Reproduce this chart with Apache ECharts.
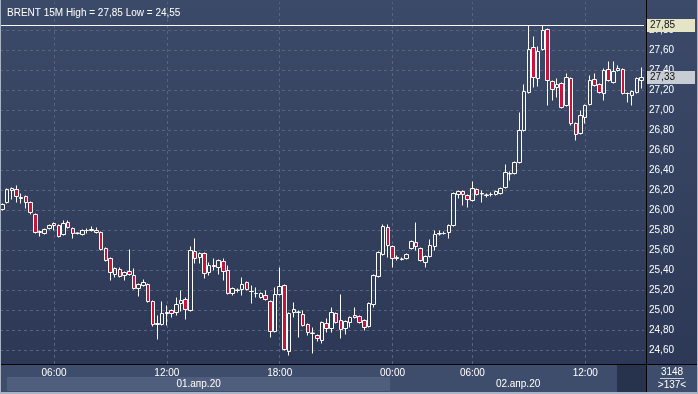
<!DOCTYPE html>
<html><head><meta charset="utf-8">
<script src="https://cdn.jsdelivr.net/npm/echarts@6/dist/echarts.min.js"></script>
<style>html,body{margin:0;padding:0;background:#34415f;}#c{width:698px;height:394px;}</style>
</head><body><div id="c"></div>
<script>
// ---- data ----
const opens = [26.01,26.08,26.20,26.21,26.13,26.14,26.08,25.96,25.79,25.77,25.82,25.87,25.85,25.76,25.88,25.82,25.775,25.76,25.80,25.80,25.80,25.78,25.62,25.52,25.36,25.41,25.35,25.39,25.35,25.22,25.25,25.26,25.09,24.86,24.86,24.97,25.00,24.98,25.07,25.11,25.00,25.59,25.53,25.57,25.38,25.44,25.43,25.49,25.40,25.17,25.205,25.21,25.28,25.19,25.17,25.13,25.15,25.09,24.79,25.16,25.25,24.59,24.98,24.985,24.96,24.86,24.775,24.75,24.70,24.87,24.82,24.97,24.90,24.82,24.88,24.95,24.94,24.90,24.84,25.06,25.34,25.56,25.83,25.64,25.52,25.515,25.52,25.62,25.68,25.62,25.48,25.54,25.64,25.765,25.77,25.78,25.85,26.16,26.19,26.15,26.10,26.21,26.165,26.155,26.16,26.16,26.17,26.23,26.365,26.37,26.48,26.80,27.18,27.63,27.32,27.61,27.81,27.29,27.23,27.27,27.05,27.32,26.87,26.77,26.93,27.06,27.31,27.26,27.17,27.41,27.28,27.40,27.41,27.17,27.15,27.18,27.30];
const closes = [26.06,26.21,26.22,26.14,26.12,26.08,25.98,25.78,25.78,25.81,25.85,25.85,25.74,25.87,25.83,25.77,25.77,25.80,25.80,25.81,25.78,25.61,25.50,25.38,25.42,25.34,25.38,25.36,25.22,25.26,25.28,25.09,24.86,24.87,24.97,24.98,24.97,25.06,25.10,25.01,25.60,25.52,25.57,25.37,25.45,25.45,25.50,25.39,25.17,25.22,25.20,25.26,25.21,25.19,25.17,25.17,25.11,24.79,25.16,25.24,24.61,24.97,25.01,24.98,24.85,24.78,24.77,24.72,24.88,24.82,24.98,24.88,24.81,24.89,24.93,24.93,24.88,24.83,25.07,25.35,25.58,25.84,25.65,25.52,25.53,25.51,25.56,25.69,25.64,25.50,25.54,25.65,25.76,25.77,25.77,25.85,26.17,26.19,26.16,26.11,26.22,26.16,26.17,26.15,26.16,26.19,26.22,26.38,26.37,26.48,26.80,27.19,27.61,27.33,27.59,27.80,27.30,27.21,27.26,27.03,27.33,26.87,26.76,26.95,27.05,27.30,27.25,27.18,27.40,27.30,27.39,27.42,27.17,27.17,27.19,27.32,27.33];
const lows = [26.00,26.07,26.11,26.08,26.07,26.02,25.96,25.77,25.74,25.76,25.81,25.80,25.73,25.75,25.82,25.72,25.76,25.75,25.77,25.79,25.77,25.60,25.49,25.30,25.33,25.33,25.30,25.35,25.21,25.14,25.24,25.08,24.84,24.71,24.85,24.85,24.93,24.95,24.99,24.91,24.99,25.47,25.47,25.32,25.35,25.40,25.36,25.30,25.16,25.15,25.18,25.15,25.20,25.07,25.13,25.12,25.10,24.73,24.78,25.15,24.60,24.55,24.93,24.73,24.84,24.75,24.57,24.69,24.67,24.78,24.78,24.87,24.72,24.76,24.83,24.92,24.87,24.80,24.83,25.03,25.33,25.55,25.53,25.43,25.50,25.50,25.51,25.61,25.60,25.49,25.43,25.53,25.60,25.75,25.76,25.72,25.84,26.12,26.05,26.03,26.09,26.15,26.08,26.13,26.14,26.15,26.16,26.22,26.30,26.36,26.47,26.79,27.17,27.23,27.24,27.60,27.05,27.10,27.13,27.02,27.04,26.85,26.70,26.76,26.87,27.05,27.24,27.17,27.10,27.29,27.27,27.39,27.16,27.08,27.05,27.17,27.22];
const highs = [26.07,26.22,26.23,26.25,26.17,26.15,26.09,25.97,25.80,25.82,25.86,25.88,25.86,25.90,25.90,25.83,25.78,25.81,25.82,25.84,25.83,25.79,25.63,25.53,25.43,25.43,25.39,25.61,25.42,25.27,25.31,25.27,25.10,24.95,25.09,25.05,25.01,25.13,25.20,25.13,25.64,25.72,25.58,25.58,25.48,25.52,25.51,25.52,25.45,25.23,25.22,25.33,25.29,25.25,25.23,25.18,25.20,25.10,25.23,25.43,25.26,24.98,25.08,25.00,25.00,24.87,24.83,24.76,24.89,24.92,25.03,24.98,25.16,24.90,24.94,25.03,24.95,24.91,25.08,25.36,25.59,25.86,25.86,25.65,25.55,25.53,25.57,25.70,25.88,25.63,25.55,25.71,25.80,25.80,25.79,25.86,26.18,26.20,26.20,26.16,26.29,26.22,26.20,26.17,26.18,26.20,26.23,26.46,26.39,26.49,26.98,27.26,27.85,27.74,27.64,27.85,27.82,27.30,27.32,27.28,27.37,27.33,26.88,27.00,27.06,27.35,27.37,27.27,27.42,27.49,27.49,27.45,27.42,27.18,27.20,27.33,27.43];
// session segments: [date, first bar time, number of 15-minute bars]
const sessions = [['01.04','03:15',83],['02.04','00:00',5],['02.04','03:00',49]];
const timeTicks = ['06:00','12:00','18:00','00:00'];
const dateLabels = {'01.04':'01.апр.20','02.04':'02.апр.20'};
const yTicks = [24.6,24.8,25.0,25.2,25.4,25.6,25.8,26.0,26.2,26.4,26.6,26.8,27.0,27.2,27.4,27.6,27.8];
const instrument = 'BRENT 15M';
const footerTop = '3148', footerBottom = '>137<';

// ---- build categories ----
const categories = [];
sessions.forEach(([d,t,n])=>{
  let m = parseInt(t.slice(0,2))*60+parseInt(t.slice(3));
  for(let k=0;k<n;k++){const mm=m+k*15;categories.push(d+' '+String(Math.floor(mm/60)).padStart(2,'0')+':'+String(mm%60).padStart(2,'0'));}
});
const candles = opens.map((o,i)=>[o,closes[i],lows[i],highs[i]]);
const hi = Math.max(...highs), lo = Math.min(...lows), last = closes[closes.length-1];
const fmt = v=>v.toFixed(2).replace('.',',');
const FONT = 'Liberation Sans';
const showTick = (i,v)=>timeTicks.indexOf(v.slice(6))>=0;

const chart = echarts.init(document.getElementById('c'),null,{renderer:'canvas'});
chart.setOption({
  animation:false,
  backgroundColor:new echarts.graphic.LinearGradient(0,0,0,1,[{offset:0,color:'#3c4a69'},{offset:1,color:'#2b3754'}]),
  textStyle:{fontFamily:FONT},
  title:{text:instrument+' High = '+fmt(hi)+' Low = '+fmt(lo),left:2,top:3,textStyle:{color:'#ffffff',fontSize:10,fontWeight:'normal',fontFamily:FONT}},
  grid:{left:0,right:54,top:2,bottom:30},
  xAxis:{type:'category',data:categories,boundaryGap:true,
    axisLine:{show:false},
    axisTick:{show:true,inside:true,length:362,alignWithLabel:true,interval:showTick,lineStyle:{color:'#56637f',type:[3,3],width:1}},
    axisLabel:{interval:showTick,formatter:v=>v.slice(6),color:'#ffffff',fontSize:10,margin:4,fontFamily:FONT},
    splitLine:{show:false}},
  yAxis:{type:'value',position:'right',offset:2,min:24.465,max:28.085,
    axisLine:{show:false},
    axisTick:{show:false,customValues:yTicks},
    axisLabel:{customValues:yTicks,color:'#ffffff',fontSize:10,margin:3,fontFamily:FONT,formatter:fmt},
    splitLine:{show:true,lineStyle:{color:'#56637f',type:[3,3],width:1}}},
  series:[{type:'candlestick',data:candles,barWidth:4,
    itemStyle:{color:'rgba(0,0,0,0)',color0:'#c8143c',borderColor:'#ffffff',borderColor0:'#ffffff',borderWidth:1},
    markLine:{symbol:'none',silent:true,animation:false,
      data:[
        {yAxis:hi,lineStyle:{color:'#ffffff',width:1,type:'solid'},label:{show:true,position:'end',distance:3,formatter:()=>fmt(hi),color:'#111',fontSize:10,fontFamily:FONT,backgroundColor:'#e3e5c6',padding:[1,20,1,3],lineHeight:11}},
        {yAxis:last,lineStyle:{color:'rgba(0,0,0,0)',width:1,type:'solid'},label:{show:true,position:'end',distance:3,formatter:()=>fmt(last),color:'#111',fontSize:10,fontFamily:FONT,backgroundColor:'#c8ccd5',padding:[1,20,1,3],lineHeight:11}}
      ]}
  }]
});

// ---- decorations: date strip, separators, footer ----
const xs = categories.map((c,i)=>chart.convertToPixel({xAxisIndex:0},i));
const dayStart = categories.findIndex(c=>c.slice(0,5)==='02.04');
const split = (xs[dayStart-1]+xs[dayStart])/2;
const plotRight = 646, axisY = 364.5;
chart.setOption({graphic:[
  {type:'rect',z:-1,shape:{x:0,y:365,width:plotRight,height:28},style:{fill:'#3f4d6c'}},
  {type:'rect',z:-1,shape:{x:7,y:377,width:split-7,height:14},style:{fill:'#4f5e7d'}},
  {type:'rect',z:-1,shape:{x:617,y:365,width:plotRight-617,height:27},style:{fill:'#27324c'}},
  {type:'rect',z:-1,shape:{x:plotRight,y:365,width:698-plotRight,height:28},style:{fill:'#3f4d6c'}},
  {type:'text',z:50,style:{text:dateLabels['01.04'],x:(7+split)/2,y:384,align:'center',verticalAlign:'middle',fill:'#ffffff',font:'10px '+FONT}},
  {type:'text',z:50,style:{text:dateLabels['02.04'],x:(split+plotRight)/2,y:384,align:'center',verticalAlign:'middle',fill:'#ffffff',font:'10px '+FONT}},
  {type:'text',z:50,style:{text:footerTop,x:672,y:372,align:'center',verticalAlign:'middle',fill:'#ffffff',font:'10px '+FONT}},
  {type:'line',z:50,shape:{x1:660,y1:378.5,x2:684,y2:378.5},style:{stroke:'#c8cdd8',lineWidth:1}},
  {type:'text',z:50,style:{text:footerBottom,x:672,y:385,align:'center',verticalAlign:'middle',fill:'#ffffff',font:'10px '+FONT}},
  {type:'line',z:60,shape:{x1:0,y1:axisY,x2:698,y2:axisY},style:{stroke:'#000000',lineWidth:1}},
  {type:'line',z:60,shape:{x1:plotRight+0.5,y1:0,x2:plotRight+0.5,y2:393},style:{stroke:'#000000',lineWidth:1}},
  {type:'line',z:60,shape:{x1:0.5,y1:0,x2:0.5,y2:394},style:{stroke:'#a9b3c6',lineWidth:1}},
  {type:'line',z:60,shape:{x1:0,y1:393,x2:698,y2:393},style:{stroke:'#a9b3c6',lineWidth:2}},
  {type:'line',z:60,shape:{x1:697.5,y1:0,x2:697.5,y2:394},style:{stroke:'#a9b3c6',lineWidth:1}}
]});
</script></body></html>
